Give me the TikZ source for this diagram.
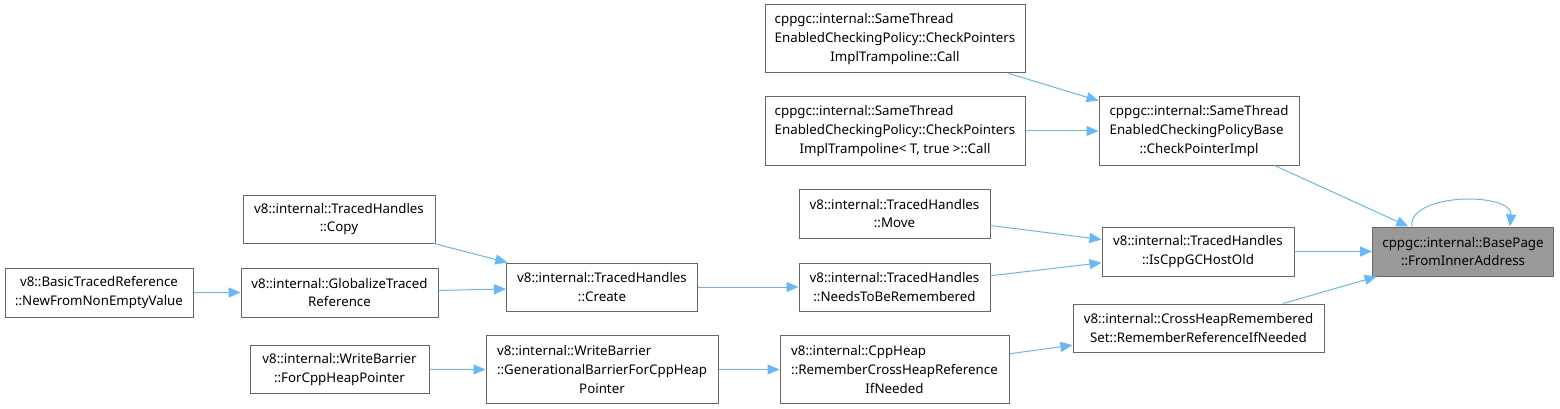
\documentclass[tikz,border=0pt]{standalone}
\usepackage{fontspec,calc}
\setmainfont{Noto Sans}
\usetikzlibrary{arrows.meta}
\definecolor{boxgray}{HTML}{666666}
\definecolor{hitgray}{HTML}{999999}
\definecolor{edgeblue}{HTML}{63B8FF}
\tikzset{>={Triangle[length=12pt,width=10pt]},every node/.style={font=\fontsize{13.3}{18.7}\selectfont},
  box/.style 2 args={draw=boxgray,fill=white,line width=1pt,inner sep=0pt,align=center,minimum width=#1pt,minimum height=#2pt},
  hit/.style={fill=hitgray},edge/.style={->,draw=edgeblue,line width=1pt}}
\newcommand{\lft}[2]{\makebox[\widthof{#2}][l]{#1}}
\begin{document}
\begin{tikzpicture}[x=1pt,y=-1pt]
\useasboundingbox (0,0) rectangle (1560,409);
\node[box={181}{49},hit] (fia) at (1463,251.5) {cppgc::internal::BasePage\\::FromInnerAddress};
\node[box={200}{68}] (cpi) at (1199,131) {cppgc::internal::SameThread\\\lft{EnabledCheckingPolicyBase}{cppgc::internal::SameThread}\\::CheckPointerImpl};
\node[box={260}{68}] (call1) at (895,39) {\lft{cppgc::internal::SameThread}{EnabledCheckingPolicy::CheckPointers}\\EnabledCheckingPolicy::CheckPointers\\ImplTrampoline::Call};
\node[box={260}{68}] (call2) at (895,131) {\lft{cppgc::internal::SameThread}{EnabledCheckingPolicy::CheckPointers}\\EnabledCheckingPolicy::CheckPointers\\ImplTrampoline< T, true >::Call};
\node[box={192}{49}] (isold) at (1198,251.5) {v8::internal::TracedHandles\\::IsCppGCHostOld};
\node[box={191}{49}] (move) at (894.5,213.5) {v8::internal::TracedHandles\\::Move};
\node[box={191}{48}] (needs) at (894.5,287) {v8::internal::TracedHandles\\::NeedsToBeRemembered};
\node[box={251}{48}] (chrs) at (1198.5,328) {v8::internal::CrossHeapRemembered\\Set::RememberReferenceIfNeeded};
\node[box={191}{48}] (create) at (602,287) {v8::internal::TracedHandles\\::Create};
\node[box={192}{48}] (copy) at (339,219) {v8::internal::TracedHandles\\::Copy};
\node[box={197}{49}] (glob) at (339.5,292.5) {v8::internal::GlobalizeTraced\\Reference};
\node[box={188}{49}] (newfrom) at (99,292.5) {v8::BasicTracedReference\\::NewFromNonEmptyValue};
\node[box={229}{68}] (remch) at (894.5,369.5) {\lft{v8::internal::CppHeap}{::RememberCrossHeapReference}\\::RememberCrossHeapReference\\IfNeeded};
\node[box={232}{68}] (genb) at (602,369.5) {\lft{v8::internal::WriteBarrier}{::GenerationalBarrierForCppHeap}\\::GenerationalBarrierForCppHeap\\Pointer};
\node[box={179}{48}] (forcpp) at (339.5,369.5) {v8::internal::WriteBarrier\\::ForCppHeapPointer};
\draw[edge] (call1)--(cpi); \draw[edge] (call2)--(cpi); \draw[edge] (cpi)--(fia);
\draw[edge] (isold)--(fia); \draw[edge] (chrs)--(fia);
\draw[edge] (move)--(isold); \draw[edge] (needs)--(isold);
\draw[edge] (create)--(needs); \draw[edge] (copy)--(create); \draw[edge] (glob)--(create);
\draw[edge] (newfrom)--(glob);
\draw[edge] (forcpp)--(genb); \draw[edge] (genb)--(remch); \draw[edge] (remch)--(chrs);
\draw[edge] (fia.154) to[out=95,in=85,looseness=.9] (fia.28);
\end{tikzpicture}
\end{document}
